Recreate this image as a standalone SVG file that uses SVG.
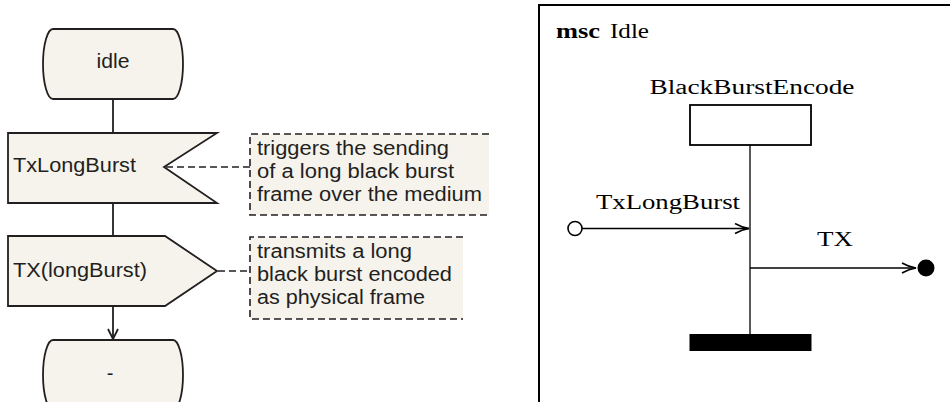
<svg xmlns="http://www.w3.org/2000/svg" width="950" height="402" viewBox="0 0 950 402">
  <defs>
    <style>
      .sym { fill: #f6f3ed; stroke: #231f20; stroke-width: 1.8; stroke-linejoin: miter; }
      .flow { fill: none; stroke: #231f20; stroke-width: 1.8; }
      .dash { fill: none; stroke: #231f20; stroke-width: 1.6; stroke-dasharray: 7 4; }
      .note { fill: #f6f3ed; stroke: none; }
      .sdl { font-family: "Liberation Sans", Arial, sans-serif; font-size: 20px; fill: #231f20; }
      .tex { font-family: "Liberation Serif", "Times New Roman", serif; font-size: 20.5px; fill: #000; }
      .msc { fill: none; stroke: #000; stroke-width: 1.3; }
    </style>
    <marker id="open-v" viewBox="0 0 12 12" refX="11" refY="6" markerWidth="12" markerHeight="12" markerUnits="userSpaceOnUse" orient="auto">
      <path d="M1,1 L11,6 L1,11" fill="none" stroke="#231f20" stroke-width="1.8"/>
    </marker>
    <marker id="tikz-to" viewBox="0 0 16 12" refX="15" refY="6" markerWidth="16" markerHeight="12" markerUnits="userSpaceOnUse" orient="auto">
      <path d="M1,1 Q8,5 15,6 Q8,7 1,11" fill="none" stroke="#000" stroke-width="1.6"/>
    </marker>
  </defs>

  <!-- SDL process: connectors -->
  <g id="sdl-connectors">
    <line class="flow" x1="113" y1="99" x2="113" y2="133"/>
    <line class="flow" x1="113" y1="203" x2="113" y2="236"/>
    <line class="flow" x1="113" y1="306" x2="113" y2="339" marker-end="url(#open-v)"/>
    <line class="dash" x1="166" y1="167" x2="250" y2="167"/>
    <line class="dash" x1="218" y1="271" x2="250" y2="271"/>
  </g>

  <!-- state: idle -->
  <g id="state-idle">
    <path class="sym" d="M53,29 H173 A10,35 0 0 1 173,99 H53 A10,35 0 0 1 53,29 Z"/>
    <text class="sdl" x="113" y="68" text-anchor="middle" textLength="33" lengthAdjust="spacingAndGlyphs">idle</text>
  </g>

  <!-- input signal -->
  <g id="input-TxLongBurst">
    <path class="sym" d="M8,133 H217 L164,167 L217,203 H8 Z"/>
    <text class="sdl" x="13" y="172" textLength="123" lengthAdjust="spacingAndGlyphs">TxLongBurst</text>
  </g>

  <!-- output signal -->
  <g id="output-TX">
    <path class="sym" d="M8,236 H165 L217,271 L165,306 H8 Z"/>
    <text class="sdl" x="13" y="277" textLength="134" lengthAdjust="spacingAndGlyphs">TX(longBurst)</text>
  </g>

  <!-- next state: - -->
  <g id="state-dash">
    <path class="sym" d="M53,340 H173 A10,35 0 0 1 173,410 H53 A10,35 0 0 1 53,340 Z"/>
    <text class="sdl" x="110" y="380" text-anchor="middle">-</text>
  </g>

  <!-- comment on input -->
  <g id="comment-input">
    <rect class="note" x="250" y="134" width="239" height="81"/>
    <path class="dash" d="M489,134 H250 V215 H489"/>
    <text class="sdl" x="257" y="155" textLength="192" lengthAdjust="spacingAndGlyphs">triggers the sending</text>
    <text class="sdl" x="257" y="178" textLength="197" lengthAdjust="spacingAndGlyphs">of a long black burst</text>
    <text class="sdl" x="257" y="201" textLength="225" lengthAdjust="spacingAndGlyphs">frame over the medium</text>
  </g>

  <!-- comment on output -->
  <g id="comment-output">
    <rect class="note" x="250" y="237" width="213" height="82"/>
    <path class="dash" d="M463,237 H250 V319 H463"/>
    <text class="sdl" x="257" y="258" textLength="155" lengthAdjust="spacingAndGlyphs">transmits a long</text>
    <text class="sdl" x="257" y="281" textLength="195" lengthAdjust="spacingAndGlyphs">black burst encoded</text>
    <text class="sdl" x="257" y="304" textLength="168" lengthAdjust="spacingAndGlyphs">as physical frame</text>
  </g>

  <!-- MSC frame -->
  <g id="msc-frame">
    <path d="M539,404 V5 H952" fill="none" stroke="#000" stroke-width="2"/>
    <text class="tex" x="556" y="38" font-weight="bold" textLength="44" lengthAdjust="spacingAndGlyphs">msc</text>
    <text class="tex" x="610" y="38" textLength="39" lengthAdjust="spacingAndGlyphs">Idle</text>
  </g>

  <!-- instance -->
  <g id="instance-BlackBurstEncode">
    <text class="tex" x="752" y="94" text-anchor="middle" textLength="205" lengthAdjust="spacingAndGlyphs">BlackBurstEncode</text>
    <rect x="690" y="105" width="121" height="40" fill="#fff" stroke="#000" stroke-width="1.8"/>
    <line class="msc" x1="750" y1="145" x2="750" y2="334"/>
    <rect x="689.5" y="334" width="122" height="17" fill="#000"/>
  </g>

  <!-- messages -->
  <g id="msc-messages">
    <line class="msc" x1="582" y1="228.5" x2="749" y2="228.5" stroke-width="1.6" marker-end="url(#tikz-to)"/>
    <circle cx="575" cy="228.5" r="7" fill="#fff" stroke="#000" stroke-width="1.6"/>
    <text class="tex" x="596" y="209" textLength="144" lengthAdjust="spacingAndGlyphs">TxLongBurst</text>
    <line class="msc" x1="750" y1="268" x2="916" y2="268" stroke-width="1.6" marker-end="url(#tikz-to)"/>
    <circle cx="926" cy="268" r="8.5" fill="#000"/>
    <text class="tex" x="817" y="246" textLength="36" lengthAdjust="spacingAndGlyphs">TX</text>
  </g>
</svg>
